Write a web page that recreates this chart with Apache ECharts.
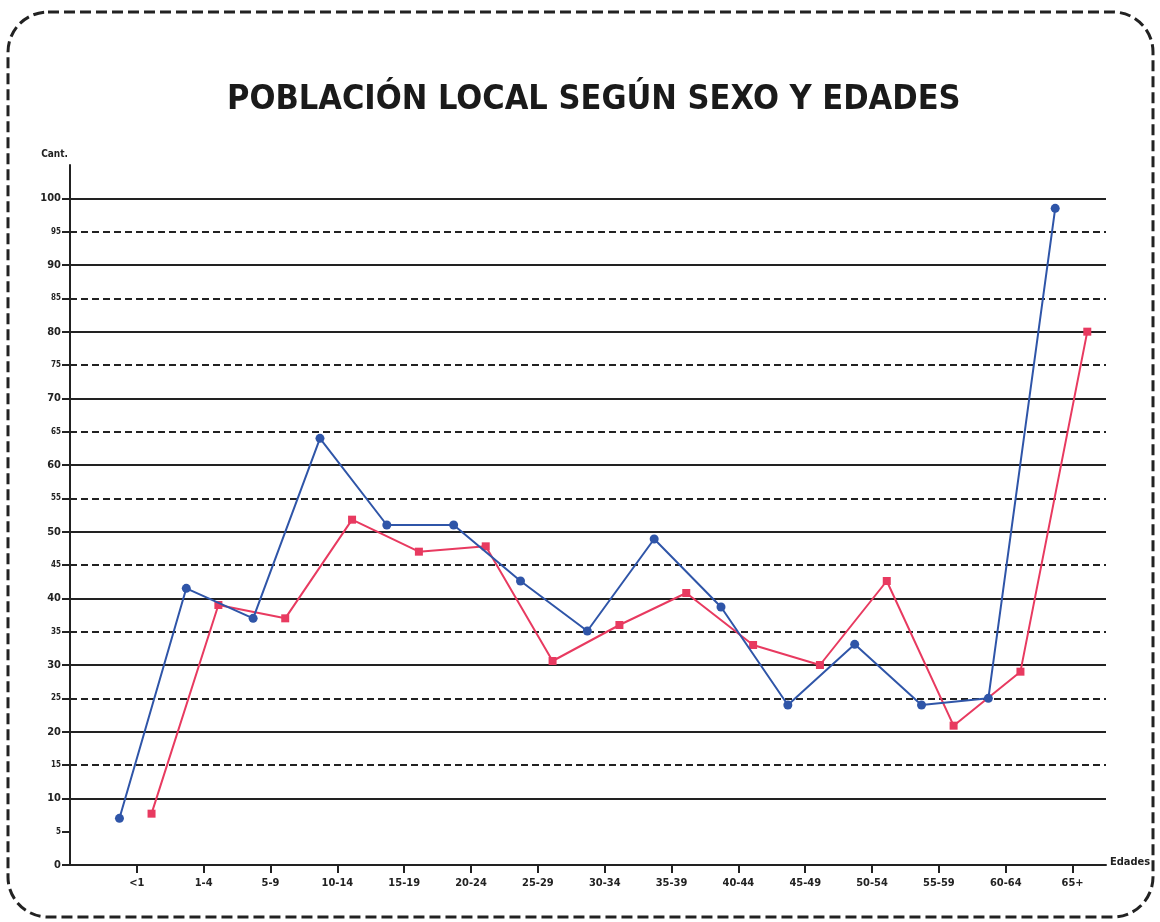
<!DOCTYPE html>
<html>
<head>
<meta charset="utf-8">
<title>Población local según sexo y edades</title>
<script src="https://cdn.jsdelivr.net/npm/echarts@6/dist/echarts.min.js"></script>
<style>
  html, body { margin: 0; padding: 0; background: #ffffff; }
  #chart { width: 1160px; height: 922px; }
</style>
</head>
<body>
<div id="chart"></div>
<script>
// Age groups along the horizontal axis
const ageGroups = ['<1', '1-4', '5-9', '10-14', '15-19', '20-24', '25-29', '30-34',
  '35-39', '40-44', '45-49', '50-54', '55-59', '60-64', '65+'];

// Population count per age group (blue and red series)
const blueValues = [7, 41.5, 37, 64, 51, 51, 42.6, 35.1, 48.9, 38.7, 24, 33.1, 24, 25, 98.5];
const redValues = [7.7, 39, 37, 51.8, 47, 47.8, 30.6, 36, 40.8, 33, 30, 42.6, 20.9, 29, 80];

// Vertical axis ticks: labelled every 10, minor dashed rule every 5
const majorTicks = [0, 10, 20, 30, 40, 50, 60, 70, 80, 90, 100];
const minorTicks = [5, 15, 25, 35, 45, 55, 65, 75, 85, 95];

// The two series sit slightly left / right of each age-group tick
const BLUE_SHIFT = -0.26;
const RED_SHIFT = 0.22;
const toPoints = (vals, shift) => vals.map((v, i) => [i + 1 + shift, v]);
const tickPositions = ageGroups.map((_, i) => i + 1);

const FONT = '"Liberation Sans Narrow", "DejaVu Sans Condensed", "Liberation Sans", Arial, sans-serif';
const INK = '#222222';

const chart = echarts.init(document.getElementById('chart'), null, { renderer: 'canvas' });

chart.setOption({
  animation: false,
  backgroundColor: '#ffffff',
  title: {
    text: 'POBLACIÓN LOCAL SEGÚN SEXO Y EDADES',
    left: 222,
    top: 78,
    textStyle: {
      fontFamily: FONT,
      fontSize: 34,
      fontWeight: 'bold',
      color: '#1a1a1a'
    }
  },
  graphic: [{
    type: 'rect',
    shape: { x: 8, y: 12, width: 1145, height: 905, r: 40 },
    style: { fill: 'none', stroke: INK, lineWidth: 3, lineDash: [11, 5] },
    silent: true,
    z: 0
  }],
  grid: { left: 70, right: 54, top: 165, bottom: 57, containLabel: false },
  xAxis: {
    type: 'value',
    min: 0,
    max: 15.5,
    interval: 1,
    name: 'Edades',
    nameLocation: 'end',
    nameGap: 4,
    nameTextStyle: {
      fontFamily: FONT, fontSize: 11, fontWeight: 'bold', color: INK,
      align: 'left', verticalAlign: 'top', padding: [-8, 0, 0, 0]
    },
    axisLine: { lineStyle: { color: INK, width: 2 } },
    axisTick: {
      customValues: tickPositions,
      length: 8,
      lineStyle: { color: INK, width: 2 }
    },
    axisLabel: {
      customValues: tickPositions,
      formatter: v => ageGroups[Math.round(v) - 1] || '',
      margin: 13,
      fontFamily: FONT,
      fontSize: 11,
      fontWeight: 'bold',
      color: INK
    },
    splitLine: { show: false }
  },
  yAxis: [{
    type: 'value',
    min: 0,
    max: 105,
    interval: 10,
    name: 'Cant.',
    nameLocation: 'end',
    nameGap: 6,
    nameTextStyle: {
      fontFamily: FONT, fontSize: 10, fontWeight: 'bold', color: INK,
      align: 'right', padding: [0, 2, 0, 0]
    },
    z: 2,
    axisLine: { show: true, lineStyle: { color: INK, width: 2 } },
    axisTick: {
      show: true,
      customValues: majorTicks,
      length: 8,
      lineStyle: { color: INK, width: 2 }
    },
    axisLabel: {
      customValues: majorTicks,
      margin: 9,
      fontFamily: FONT,
      fontSize: 11,
      fontWeight: 'bold',
      color: INK
    },
    splitLine: {
      show: true,
      showMinLine: false,
      showMaxLine: true,
      lineStyle: { color: INK, width: 2, type: 'solid' }
    }
  }, {
    type: 'value',
    position: 'left',
    min: 0,
    max: 105,
    interval: 5,
    z: 1,
    axisLine: { show: false },
    axisTick: {
      show: true,
      customValues: minorTicks,
      length: 8,
      lineStyle: { color: INK, width: 2 }
    },
    axisLabel: {
      customValues: minorTicks,
      margin: 9,
      fontFamily: FONT,
      fontSize: 8,
      fontWeight: 'bold',
      color: INK
    },
    splitLine: {
      show: true,
      showMinLine: false,
      showMaxLine: true,
      lineStyle: { color: INK, width: 2, type: [7, 4] }
    }
  }],
  series: [{
    name: 'Hombres',
    type: 'line',
    yAxisIndex: 0,
    data: toPoints(blueValues, BLUE_SHIFT),
    symbol: 'circle',
    symbolSize: 9,
    lineStyle: { color: '#2f55a8', width: 2 },
    itemStyle: { color: '#2f55a8' },
    z: 5
  }, {
    name: 'Mujeres',
    type: 'line',
    yAxisIndex: 0,
    data: toPoints(redValues, RED_SHIFT),
    symbol: 'rect',
    symbolSize: 8,
    lineStyle: { color: '#e83a60', width: 2 },
    itemStyle: { color: '#e83a60' },
    z: 4
  }]
});
</script>
</body>
</html>
